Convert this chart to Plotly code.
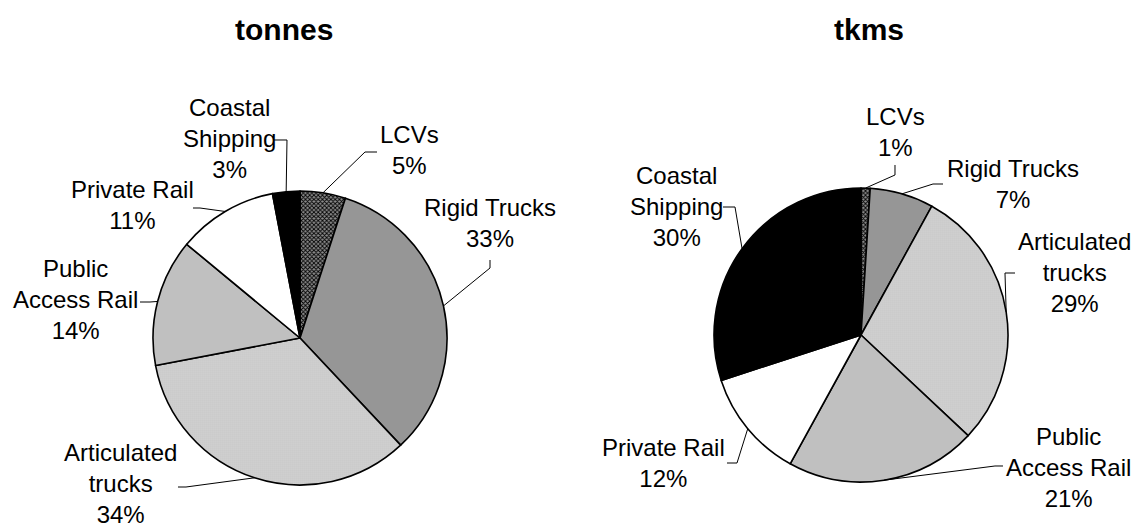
import math
import plotly.graph_objects as go

# Freight task by mode
categories = ["LCVs", "Rigid Trucks", "Articulated trucks",
              "Public Access Rail", "Private Rail", "Coastal Shipping"]
label_text = ["LCVs", "Rigid Trucks", "Articulated<br>trucks",
              "Public<br>Access Rail", "Private Rail", "Coastal<br>Shipping"]
tonnes_pct = [5, 33, 34, 14, 11, 3]
tkms_pct = [1, 7, 29, 21, 12, 30]
panel_titles = ["tonnes", "tkms"]

W, H = 1136, 527
FONT = "Liberation Sans, Arial, sans-serif"

fill_colors = ["#7f7f7f", "#969696", "#dcdcdc", "#c0c0c0", "#ffffff", "#000000"]
pattern_shapes = ["x", "", ".", "", "", ""]
pattern_fg = ["#000000", "#000000", "#8c8c8c", "#000000", "#000000", "#000000"]
pattern_bg = ["#8c8c8c", "#969696", "#f6f6f6", "#c0c0c0", "#ffffff", "#000000"]


def px(x):
    return x / W


def py(y):
    return 1 - y / H


# pie geometry in pixels: centre x, centre y, radius
pies = [
    dict(cx=300, cy=338, r=147, title_x=284),
    dict(cx=861, cy=335, r=147, title_x=869),
]

# label placement (text centre) and the label-side part of each connector, pixels
label_layout = [
    {  # tonnes
        "LCVs": dict(t=(409, 150), path=[(377, 152), (365, 152)]),
        "Rigid Trucks": dict(t=(490, 223), path=[(490, 260), (490, 268)]),
        "Articulated trucks": dict(t=(120, 483), path=[(178, 487), (186, 487)]),
        "Public Access Rail": dict(t=(75, 299), path=[(140, 302), (150, 302)]),
        "Private Rail": dict(t=(132, 205), path=[(193, 208), (200, 208)]),
        "Coastal Shipping": dict(t=(229, 139), path=[(274, 140), (287, 140)]),
    },
    {  # tkms
        "LCVs": dict(t=(895, 132), path=[(895, 165), (895, 175)]),
        "Rigid Trucks": dict(t=(1013, 184), path=[(943, 184), (933, 184)]),
        "Articulated trucks": dict(t=(1074, 272), path=[(1015, 273), (1005, 273)]),
        "Public Access Rail": dict(t=(1068, 467), path=[(1003, 466), (995, 466)]),
        "Private Rail": dict(t=(663, 463), path=[(727, 463), (737, 463)]),
        "Coastal Shipping": dict(t=(676, 206), path=[(723, 207), (735, 207)]),
    },
]

fig = go.Figure()
annotations = []
shapes = []

for k, values in enumerate([tonnes_pct, tkms_pct]):
    g = pies[k]
    cx, cy, r = g["cx"], g["cy"], g["r"]
    fig.add_trace(go.Pie(
        labels=categories,
        values=values,
        sort=False,
        direction="clockwise",
        rotation=0,
        textinfo="none",
        hoverinfo="label+percent",
        showlegend=False,
        domain=dict(x=[px(cx - r), px(cx + r)], y=[py(cy + r), py(cy - r)]),
        marker=dict(
            colors=fill_colors,
            line=dict(color="#000000", width=1.6),
            pattern=dict(shape=pattern_shapes, fgcolor=pattern_fg,
                         bgcolor=pattern_bg, size=[3, 4, 2, 4, 4, 4],
                         solidity=[0.5, 0.3, 0.4, 0.3, 0.3, 0.3]),
        ),
    ))

    annotations.append(dict(
        x=px(g["title_x"]), y=py(30), xref="paper", yref="paper",
        text="<b>" + panel_titles[k] + "</b>", showarrow=False,
        font=dict(family=FONT, size=30, color="#000000"),
        xanchor="center", yanchor="middle",
    ))

    total = sum(values)
    start = 0.0
    for name, txt, v in zip(categories, label_text, values):
        span = 360.0 * v / total
        mid = math.radians(start + span / 2)
        start += span
        ex = cx + r * math.sin(mid)
        ey = cy - r * math.cos(mid)
        lay = label_layout[k][name]
        tx, ty = lay["t"]
        annotations.append(dict(
            x=px(tx), y=py(ty), xref="paper", yref="paper",
            text=f"{txt}<br>{v}%", showarrow=False,
            font=dict(family=FONT, size=24, color="#000000"),
            xanchor="center", yanchor="middle", align="center",
        ))
        pts = lay["path"] + [(ex, ey)]
        d = "M " + " L ".join(f"{px(a):.5f},{py(b):.5f}" for a, b in pts)
        shapes.append(dict(type="path", path=d, xref="paper", yref="paper",
                           line=dict(color="#000000", width=1)))

fig.update_layout(
    width=W, height=H, autosize=False,
    margin=dict(l=0, r=0, t=0, b=0),
    paper_bgcolor="#ffffff", plot_bgcolor="#ffffff",
    annotations=annotations, shapes=shapes,
)

fig.write_html("out.html")
